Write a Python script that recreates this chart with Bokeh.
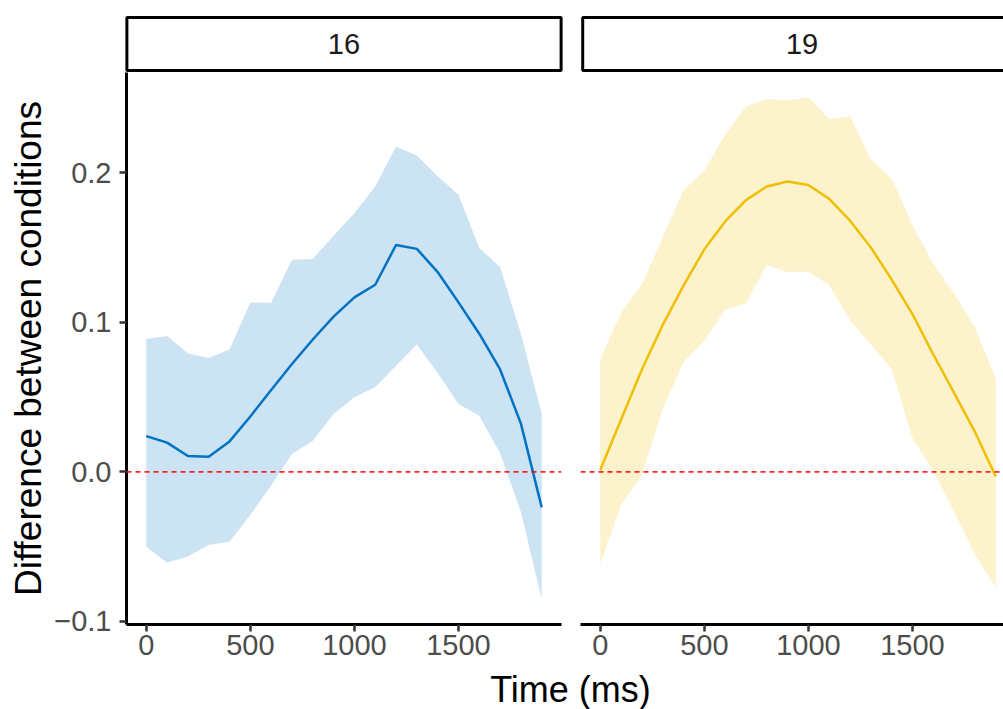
from bokeh.plotting import figure
from bokeh.layouts import column, row
from bokeh.models import Range1d, FixedTicker, CustomJSTickFormatter, Span
from bokeh.embed import file_html
from bokeh.resources import INLINE
from bokeh.core.properties import value

# ---------------- data ----------------
time_ms = [0, 100, 200, 300, 400, 500, 600, 700, 800, 900,
           1000, 1100, 1200, 1300, 1400, 1500, 1600, 1700, 1800, 1900]
panel_labels = ["16", "19"]

mean_16 = [0.0238, 0.0195, 0.0105, 0.0100, 0.0203, 0.0370, 0.0546, 0.0720, 0.0884, 0.1037,
           0.1166, 0.1250, 0.1516, 0.1490, 0.1335, 0.1132, 0.0923, 0.0684, 0.0322, -0.0238]
upper_16 = [0.0887, 0.0908, 0.0791, 0.0760, 0.0818, 0.1132, 0.1130, 0.1418, 0.1423, 0.1578,
            0.1728, 0.1907, 0.2174, 0.2114, 0.1976, 0.1852, 0.1495, 0.1368, 0.0923, 0.0386]
lower_16 = [-0.0501, -0.0608, -0.0567, -0.0489, -0.0467, -0.0288, -0.0091, 0.0119, 0.0207, 0.0386,
            0.0498, 0.0565, 0.0708, 0.0851, 0.0660, 0.0453, 0.0374, 0.0124, -0.0269, -0.0853]

mean_19 = [0.0012, 0.0350, 0.0684, 0.0982, 0.1244, 0.1487, 0.1673, 0.1816, 0.1907, 0.1940,
           0.1917, 0.1824, 0.1678, 0.1499, 0.1285, 0.1054, 0.0784, 0.0527, 0.0267, -0.0031]
upper_19 = [0.0756, 0.1061, 0.1252, 0.1566, 0.1881, 0.2014, 0.2253, 0.2443, 0.2491, 0.2481,
            0.2501, 0.2358, 0.2377, 0.2086, 0.1960, 0.1650, 0.1387, 0.1192, 0.0963, 0.0625]
lower_19 = [-0.0615, -0.0222, -0.0019, 0.0422, 0.0732, 0.0875, 0.1085, 0.1125, 0.1383, 0.1333,
            0.1337, 0.1249, 0.1013, 0.0851, 0.0689, 0.0224, 0.0005, -0.0269, -0.0555, -0.0770]

y_ticks = [-0.1, 0.0, 0.1, 0.2]
x_ticks = [0, 500, 1000, 1500]
colors = ["#0073C2", "#EFC000"]

FONT = "Liberation Sans"
TICK_SIZE = "29px"
TITLE_SIZE = "37px"

# ---------------- ranges (ggplot-like 5% expansion) ----------------
xmin, xmax = min(time_ms), max(time_ms)
xpad = (xmax - xmin) * 0.05
all_y = lower_16 + upper_16 + lower_19 + upper_19
ymin, ymax = min(all_y), max(all_y)
ypad = (ymax - ymin) * 0.05
y_range = Range1d(ymin - ypad, ymax + ypad)

P1_W, P2_W = 570, 433
P1_LEFT, P1_RIGHT, P2_LEFT = 126, 9, 10
frame1_w = P1_W - P1_LEFT - P1_RIGHT
frame2_w = P2_W - P2_LEFT
ms_per_px = (xmax - xmin + 2 * xpad) / frame1_w
x_range1 = Range1d(xmin - xpad, xmax + xpad)
x_range2 = Range1d(xmin - xpad, xmin - xpad + frame2_w * ms_per_px)

STRIP_H = 72
PANEL_H = 596
PANEL_BOTTOM = 44
XLAB_H = 709 - STRIP_H - PANEL_H


def style_common(p):
    p.background_fill_color = "white"
    p.border_fill_color = "white"
    p.outline_line_color = None
    p.xgrid.visible = False
    p.ygrid.visible = False


def style_axis(ax, ticks):
    ax.ticker = FixedTicker(ticks=ticks)
    ax.axis_line_color = "black"
    ax.axis_line_width = 3
    ax.major_tick_line_color = "#333333"
    ax.major_tick_line_width = 2.5
    ax.major_tick_out = 7
    ax.major_tick_in = 0
    ax.minor_tick_line_color = None
    ax.major_label_text_font = FONT
    ax.major_label_text_font_size = TICK_SIZE
    ax.major_label_text_color = "#4D4D4D"


def make_panel(width, min_left, min_right, x_range, mean, lower, upper, color, show_y):
    p = figure(width=width, height=PANEL_H, x_range=x_range, y_range=y_range,
               output_backend="svg", toolbar_location=None,
               min_border_left=min_left, min_border_right=min_right,
               min_border_top=0, min_border_bottom=PANEL_BOTTOM)
    style_common(p)
    p.varea(x=time_ms, y1=lower, y2=upper, fill_color=color, fill_alpha=0.2)
    p.line(x=time_ms, y=mean, line_color=color, line_width=2.5)
    p.add_layout(Span(location=0, dimension="width", line_color="#FF0000",
                      line_alpha=0.85, line_dash="5 4", line_width=1.8))
    style_axis(p.xaxis[0], x_ticks)
    p.xaxis.major_label_standoff = 3
    if show_y:
        ya = p.yaxis[0]
        style_axis(ya, y_ticks)
        ya.formatter = CustomJSTickFormatter(code="""
            const s = Math.abs(tick).toFixed(1);
            return tick < -1e-9 ? "\u2212" + s : s;
        """)
        ya.major_label_standoff = 8
        ya.axis_label = "Difference between conditions"
        ya.axis_label_text_font = FONT
        ya.axis_label_text_font_size = TITLE_SIZE
        ya.axis_label_text_font_style = "normal"
        ya.axis_label_text_color = "black"
        ya.axis_label_standoff = 2
    else:
        p.yaxis.visible = False
    return p


def make_strip(width, min_left, min_right, label, closed_right, text_x):
    s = figure(width=width, height=STRIP_H, output_backend="svg", toolbar_location=None,
               x_range=Range1d(-0.01, 1), y_range=Range1d(-0.04, 1.04),
               min_border_left=min_left, min_border_right=min_right,
               min_border_top=15, min_border_bottom=0)
    style_common(s)
    s.axis.visible = False
    right = 0.99 if closed_right else 1.2
    s.quad(left=[0], right=[right], bottom=[0], top=[1], fill_color="white",
           line_color="black", line_width=3)
    s.text(x=[text_x], y=[0.5], text=[label], text_align="center",
           text_baseline="middle", text_font=value(FONT), text_font_size=TICK_SIZE,
           text_color="#1A1A1A")
    return s


p1 = make_panel(P1_W, P1_LEFT, P1_RIGHT, x_range1, mean_16, lower_16, upper_16, colors[0], True)
p2 = make_panel(P2_W, P2_LEFT, 0, x_range2, mean_19, lower_19, upper_19, colors[1], False)

s1 = make_strip(P1_W, P1_LEFT - 4, P1_RIGHT - 4, panel_labels[0], True, 0.495)
# "19" is centred on the full (partly off-screen) strip of panel 2
s2 = make_strip(P2_W, P2_LEFT - 2, 0, panel_labels[1], False,
                0.5 * (frame1_w + 8) / (frame2_w + 2))

# shared x-axis title, drawn as an axis label of a thin strip spanning both panels
xl = figure(width=P1_W + P2_W, height=XLAB_H, output_backend="svg", toolbar_location=None,
            x_range=Range1d(0, 1), y_range=Range1d(0, 1),
            min_border_left=P1_LEFT + 11, min_border_right=0,
            min_border_top=0, min_border_bottom=0)
style_common(xl)
xl.yaxis.visible = False
xa = xl.xaxis[0]
xa.ticker = FixedTicker(ticks=[])
xa.axis_line_color = None
xa.major_tick_line_color = None
xa.minor_tick_line_color = None
xa.major_label_text_font_size = "1px"
xa.major_label_standoff = 0
xa.axis_label = "Time (ms)"
xa.axis_label_standoff = 0
xa.axis_label_text_font = FONT
xa.axis_label_text_font_size = "36px"
xa.axis_label_text_font_style = "normal"
xa.axis_label_text_color = "black"

layout = column(row(s1, s2), row(p1, p2), xl)

open("out.html", "w").write(file_html(layout, INLINE))
